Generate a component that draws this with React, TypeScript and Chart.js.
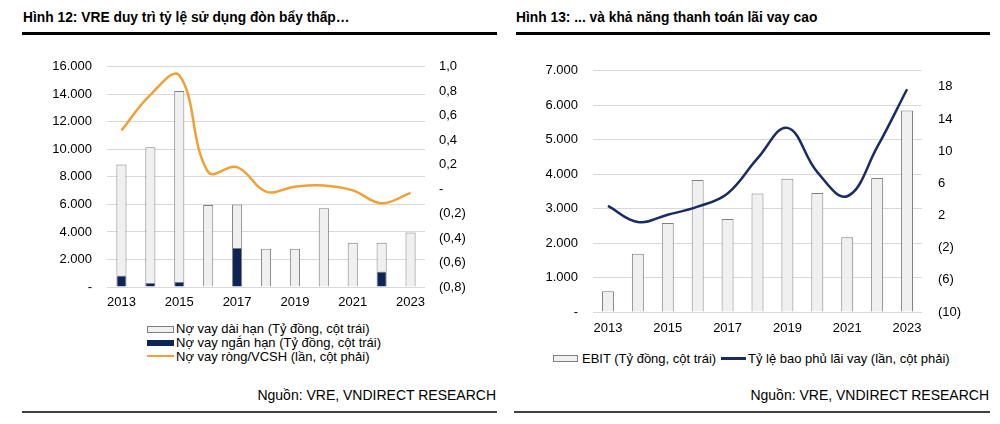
import React, { useEffect, useRef } from 'react';
import { Chart, registerables } from 'chart.js';

Chart.register(...registerables);

// ---------- DATA ----------
const years = ['2013', '2014', '2015', '2016', '2017', '2018', '2019', '2020', '2021', '2022', '2023'];

// Figure 12
const longTermDebt = [8060, 9860, 13890, 5950, 3170, 2780, 2780, 5730, 3210, 2080, 3960];
const shortTermDebt = [840, 290, 360, 0, 2830, 0, 0, 0, 0, 1130, 0];
const netDebtToEquity = [0.48, 0.77, 0.93, 0.14, 0.18, -0.02, 0.02, 0.03, -0.01, -0.115, -0.03];
const debtAxisTicks = [0, 2000, 4000, 6000, 8000, 10000, 12000, 14000, 16000];
const ratioAxisTicks = [-0.8, -0.6, -0.4, -0.2, 0, 0.2, 0.4, 0.6, 0.8, 1.0];

// Figure 13
const ebit = [600, 1690, 2580, 3830, 2700, 3440, 3870, 3450, 2170, 3890, 5850];
const interestCoverage = [3.2, 1.2, 2.1, 3.1, 4.75, 9.1, 12.9, 7.4, 4.4, 10.5, 17.7];
const ebitAxisTicks = [0, 1000, 2000, 3000, 4000, 5000, 6000, 7000];
const coverageAxisTicks = [-10, -6, -2, 2, 6, 10, 14, 18];

// ---------- STYLE ----------
const FONT = '"Liberation Sans", Arial, Helvetica, sans-serif';
const LIGHT = '#F0F0F0';
const BORDER = '#7F7F7F';
const NAVY = '#0D2457';
const ORANGE = '#F0A035';
const LINE_NAVY = '#1A2C64';
const GRID = '#D9D9D9';

const fmtThousands = (v: number) =>
  v === 0 ? '-' : String(Math.round(v)).replace(/\B(?=(\d{3})+(?!\d))/g, '.');
const fmtRatio = (v: number) => {
  if (Math.abs(v) < 1e-9) return '-';
  const s = Math.abs(v).toFixed(1).replace('.', ',');
  return v < 0 ? `(${s})` : s;
};
const fmtInt = (v: number) => (v < 0 ? `(${Math.abs(v)})` : String(v));

const setTicks = (arr: number[]) => (scale: any) => {
  scale.ticks = arr.map((v) => ({ value: v }));
};

const tickFont = { family: FONT, size: 13 };

function xScale(padding: number, height: number) {
  return {
    stacked: true,
    grid: { display: false, drawTicks: false },
    border: { display: false },
    ticks: {
      autoSkip: false,
      maxRotation: 0,
      padding,
      color: '#000',
      font: tickFont,
      callback: (_v: any, i: number) => (i % 2 === 0 ? years[i] : ''),
    },
    afterFit: (s: any) => {
      s.height = height;
    },
  };
}

function ChartCanvas({ config, left, top, width, height }: any) {
  const ref = useRef<HTMLCanvasElement | null>(null);
  useEffect(() => {
    const chart = new Chart(ref.current as HTMLCanvasElement, config);
    return () => chart.destroy();
  }, []);
  return (
    <canvas
      ref={ref}
      width={width}
      height={height}
      style={{ position: 'absolute', left, top, width, height }}
    />
  );
}

const leftConfig: any = {
  type: 'bar',
  data: {
    labels: years,
    datasets: [
      {
        type: 'line',
        label: 'Nợ vay ròng/VCSH (lần, cột phải)',
        data: netDebtToEquity,
        yAxisID: 'y1',
        borderColor: ORANGE,
        borderWidth: 2.5,
        pointRadius: 0,
        tension: 0.4,
        fill: false,
        order: 0,
      },
      {
        label: 'Nợ vay ngắn hạn (Tỷ đồng, cột trái)',
        data: shortTermDebt,
        yAxisID: 'y',
        backgroundColor: NAVY,
        borderColor: BORDER,
        borderWidth: 1,
        categoryPercentage: 0.7,
        barPercentage: 0.5,
        order: 1,
      },
      {
        label: 'Nợ vay dài hạn (Tỷ đồng, cột trái)',
        data: longTermDebt,
        yAxisID: 'y',
        backgroundColor: LIGHT,
        borderColor: BORDER,
        borderWidth: 1,
        categoryPercentage: 0.7,
        barPercentage: 0.5,
        order: 1,
      },
    ],
  },
  options: {
    responsive: false,
    animation: false,
    devicePixelRatio: 1,
    layout: { padding: 0 },
    plugins: { legend: { display: false }, tooltip: { enabled: false } },
    scales: {
      x: xScale(8, 28),
      y: {
        stacked: true,
        position: 'left',
        min: 0,
        max: 16000,
        afterBuildTicks: setTicks(debtAxisTicks),
        grid: { color: GRID, lineWidth: 1, drawTicks: false },
        border: { display: false },
        ticks: { padding: 15, color: '#000', font: tickFont, callback: (v: any) => fmtThousands(v) },
        afterFit: (s: any) => {
          s.width = 67;
        },
      },
      y1: {
        position: 'right',
        min: -0.8,
        max: 1.0,
        afterBuildTicks: setTicks(ratioAxisTicks),
        grid: { display: false, drawTicks: false },
        border: { display: false },
        ticks: { padding: 14, color: '#000', font: tickFont, callback: (v: any) => fmtRatio(v) },
        afterFit: (s: any) => {
          s.width = 60;
        },
      },
    },
  },
};

const rightConfig: any = {
  type: 'bar',
  data: {
    labels: years,
    datasets: [
      {
        type: 'line',
        label: 'Tỷ lệ bao phủ lãi vay (lần, cột phải)',
        data: interestCoverage,
        yAxisID: 'y1',
        borderColor: LINE_NAVY,
        borderWidth: 2.5,
        pointRadius: 0,
        tension: 0.4,
        fill: false,
        order: 0,
      },
      {
        label: 'EBIT (Tỷ đồng, cột trái)',
        data: ebit,
        yAxisID: 'y',
        backgroundColor: LIGHT,
        borderColor: BORDER,
        borderWidth: 1,
        categoryPercentage: 0.8,
        barPercentage: 0.5,
        order: 1,
      },
    ],
  },
  options: {
    responsive: false,
    animation: false,
    devicePixelRatio: 1,
    layout: { padding: 0 },
    plugins: { legend: { display: false }, tooltip: { enabled: false } },
    scales: {
      x: xScale(9, 28),
      y: {
        position: 'left',
        min: 0,
        max: 7000,
        afterBuildTicks: setTicks(ebitAxisTicks),
        grid: { color: GRID, lineWidth: 1, drawTicks: false },
        border: { display: false },
        ticks: { padding: 15, color: '#000', font: tickFont, callback: (v: any) => fmtThousands(v) },
        afterFit: (s: any) => {
          s.width = 73;
        },
      },
      y1: {
        position: 'right',
        min: -10,
        max: 20,
        afterBuildTicks: setTicks(coverageAxisTicks),
        grid: { display: false, drawTicks: false },
        border: { display: false },
        ticks: { padding: 16, color: '#000', font: tickFont, callback: (v: any) => fmtInt(v) },
        afterFit: (s: any) => {
          s.width = 68;
        },
      },
    },
  },
};

const abs = (left: number, top: number, extra: any = {}): any => ({
  position: 'absolute',
  left,
  top,
  ...extra,
});

const titleStyle = (left: number): any =>
  abs(left, 10, { fontFamily: FONT, fontWeight: 'bold', fontSize: 13.8, lineHeight: '16px', color: '#000', whiteSpace: 'nowrap' });

const legendText = (left: number, cy: number): any =>
  abs(left, cy - 8, { fontFamily: FONT, fontSize: 13, lineHeight: '16px', color: '#000', whiteSpace: 'nowrap' });

const sourceStyle = (right: number): any => ({
  position: 'absolute',
  right: 1000 - right,
  top: 387,
  fontFamily: FONT,
  fontSize: 14,
  lineHeight: '16px',
  color: '#000',
  whiteSpace: 'nowrap',
});

export default function App() {
  return (
    <div
      style={{
        position: 'fixed',
        left: 0,
        top: 0,
        width: 1000,
        height: 424,
        background: '#fff',
        overflow: 'hidden',
      }}
    >
      {/* Left panel */}
      <div style={titleStyle(23)}>Hình 12: VRE duy trì tỷ lệ sử dụng đòn bẩy thấp…</div>
      <div style={abs(22, 32, { width: 475, height: 3, background: '#000' })} />
      <ChartCanvas config={leftConfig} left={40} top={44} width={445} height={271} />

      <div style={abs(147, 326, { width: 25, height: 5, background: LIGHT, border: `1px solid ${BORDER}` })} />
      <div style={legendText(176, 329)}>Nợ vay dài hạn (Tỷ đồng, cột trái)</div>
      <div style={abs(147, 340, { width: 27, height: 6, background: NAVY })} />
      <div style={legendText(176, 343)}>Nợ vay ngắn hạn (Tỷ đồng, cột trái)</div>
      <div style={abs(147, 355, { width: 27, height: 2, background: ORANGE })} />
      <div style={legendText(176, 356.5)}>Nợ vay ròng/VCSH (lần, cột phải)</div>

      <div style={sourceStyle(496)}>Nguồn: VRE, VNDIRECT RESEARCH</div>
      <div style={abs(22, 411, { width: 475, height: 1.5, background: '#404040' })} />

      {/* Right panel */}
      <div style={titleStyle(516)}>Hình 13: ... và khả năng thanh toán lãi vay cao</div>
      <div style={abs(516, 32, { width: 474, height: 3, background: '#000' })} />
      <ChartCanvas config={rightConfig} left={520} top={47} width={470} height={293} />

      <div style={abs(553, 355, { width: 23, height: 5, background: LIGHT, border: `1px solid ${BORDER}` })} />
      <div style={legendText(582, 358.5)}>EBIT (Tỷ đồng, cột trái)</div>
      <div style={abs(721, 357, { width: 25, height: 2.5, background: LINE_NAVY })} />
      <div style={legendText(748, 358.5)}>Tỷ lệ bao phủ lãi vay (lần, cột phải)</div>

      <div style={sourceStyle(989)}>Nguồn: VRE, VNDIRECT RESEARCH</div>
      <div style={abs(514, 411, { width: 476, height: 1.5, background: '#404040' })} />
    </div>
  );
}
